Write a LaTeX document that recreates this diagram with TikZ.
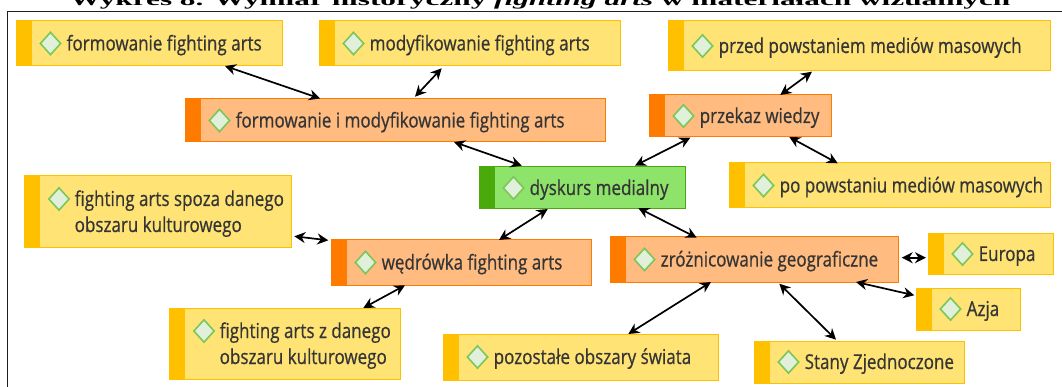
\documentclass[tikz,border=0pt]{standalone}
\usepackage{fontspec}
\usepackage{graphicx}
\setmainfont{Liberation Serif}
\newfontfamily\boxfont[FakeStretch=0.83,FakeBold=0.6]{Open Sans}
\usetikzlibrary{arrows.meta,shapes.geometric}

\definecolor{accY}{HTML}{FFC000}
\definecolor{fillY}{HTML}{FFE475}
\definecolor{accO}{HTML}{FF7B00}
\definecolor{fillO}{HTML}{FFBB80}
\definecolor{accG}{HTML}{4BAA0B}
\definecolor{fillG}{HTML}{8EE46A}
\definecolor{gemLine}{HTML}{7CC65A}
\definecolor{gemFill}{HTML}{E1F0DA}
\definecolor{txt}{HTML}{353535}
\definecolor{frameCol}{HTML}{1E1E1E}

% one topic box: name, colour kind (Y/O/G), left, top, right, bottom, text
\newcommand\mapnode[7]{%
  \node[box, draw=acc#2, fill=fill#2,
        minimum width={(#5-#3)*1pt}, minimum height={(#6-#4)*1pt}]
        (#1) at ({(#3+#5)/2},{(#4+#6)/2}) {};
  \fill[acc#2] (#1.north west) rectangle ([shift={(15.5,0)}]#1.south west);
  \node[gem] (#1-gem) at ([shift={(34.5,0)}]#1.west) {};
  \node[lbl] (#1-txt) at ([shift={(50.5,7)}]#1.west) {#7};
}
% a topic box with a two-line label
\newcommand\mapnodeii[8]{%
  \node[box, draw=acc#2, fill=fill#2,
        minimum width={(#5-#3)*1pt}, minimum height={(#6-#4)*1pt}]
        (#1) at ({(#3+#5)/2},{(#4+#6)/2}) {};
  \fill[acc#2] (#1.north west) rectangle ([shift={(15.5,0)}]#1.south west);
  \node[gem] (#1-gem) at ([shift={(35,23)}]#1.north west) {};
  \node[lbl] (#1-txt) at ([shift={(50.5,30)}]#1.north west)
    {\vtop{\baselineskip=26pt\hbox{#7}\hbox{#8}}};
}

\begin{document}
\begin{tikzpicture}[x=1pt,y=-1pt,
  box/.style={rectangle, draw, line width=1pt, inner sep=0pt, outer sep=0pt},
  gem/.style={diamond, draw=gemLine, fill=gemFill, line width=1.6pt,
              minimum width=21pt, minimum height=23pt, inner sep=0pt},
  lbl/.style={anchor=base west, inner sep=0pt, text=txt,
              font=\boxfont\fontsize{20.5}{24}\selectfont},
  link/.style={{Stealth[length=11pt,width=11pt]}-{Stealth[length=11pt,width=11pt]},
               line width=1.7pt, black},
]
\clip (0,0) rectangle (1062,387);
\fill[white] (0,0) rectangle (1062,387);

% heading and frame
\node[anchor=base, inner sep=0pt] (title) at (540,5.5)
  {\scalebox{1.84}[1]{\fontsize{17}{17}\selectfont\bfseries Wykres 8. Wymiar historyczny \textit{fighting arts} w materiałach wizualnych}};
\draw[frameCol, line width=1.3pt] (7.5,11.7) rectangle (1090,420);

% topic boxes
\mapnode{f1}{Y}{16}{21}{282}{66}{formowanie fighting arts}
\mapnode{f2}{Y}{319}{21}{620}{66}{modyfikowanie fighting arts}
\mapnode{fim}{O}{185}{99}{605}{142}{formowanie i modyfikowanie fighting arts}
\mapnode{przed}{Y}{668}{21}{1050}{71}{przed powstaniem mediów masowych}
\mapnode{prz}{O}{649}{95}{831}{137}{przekaz wiedzy}
\mapnode{po}{Y}{729}{163}{1050}{208}{po powstaniu mediów masowych}
\mapnode{dys}{G}{479}{167}{685}{209}{dyskurs medialny}
\mapnodeii{spoza}{Y}{24}{176}{291}{248}{fighting arts spoza danego}{obszaru kulturowego}
\mapnode{wed}{O}{331}{240}{591}{285}{wędrówka fighting arts}
\mapnodeii{zdan}{Y}{169}{308}{400}{379}{fighting arts z danego}{obszaru kulturowego}
\mapnode{poz}{Y}{443}{334}{718}{380}{pozostałe obszary świata}
\mapnode{zroz}{O}{610}{237}{898}{282}{zróżnicowanie geograficzne}
\mapnode{eur}{Y}{928}{234}{1053}{274}{Europa}
\mapnode{azja}{Y}{916}{288}{1020}{330}{Azja}
\mapnode{stany}{Y}{754}{341}{964}{383}{Stany Zjednoczone}

% two-way links
\draw[link] ([shift={(209,0)}]f1.south west) -- ([shift={(135,-0.5)}]fim.north west);
\draw[link] ([shift={(122.7,2.3)}]f2.south west) -- ([shift={(230,-2.3)}]fim.north west);
\draw[link] ([shift={(269,0)}]fim.south west) -- ([shift={(42.7,-1.3)}]dys.north west);
\draw[link] ([shift={(41.3,0.7)}]prz.south west) -- ([shift={(156,-1.3)}]dys.north west);
\draw[link] ([shift={(144,0.7)}]przed.south west) -- ([shift={(131.3,0)}]prz.north west);
\draw[link] ([shift={(140.3,0)}]prz.south west) -- ([shift={(108.7,0.3)}]po.north west);
\draw[link] ([shift={(159.3,-1)}]dys.south west) -- ([shift={(86.7,0.7)}]zroz.north west);
\draw[link] ([shift={(68.7,0)}]dys.south west) -- ([shift={(168,0)}]wed.north west);
\draw[link] ([shift={(3.3,-11.7)}]spoza.south east) -- ([shift={(-2.7,0.3)}]wed.north west);
\draw[link] ([shift={(74,0.3)}]wed.south west) -- ([shift={(194.3,0)}]zdan.north west);
\draw[link] ([shift={(101,0)}]zroz.south west) -- ([shift={(185.3,0)}]poz.north west);
\draw[link] ([shift={(169.3,1.7)}]zroz.south west) -- ([shift={(82,-1.3)}]stany.north west);
\draw[link] ([shift={(3.7,-1.8)}]zroz.east) -- ([shift={(-2,3.7)}]eur.west);
\draw[link] ([shift={(246,0)}]zroz.south west) -- ([shift={(-1.7,-13.7)}]azja.west);
\end{tikzpicture}
\end{document}
